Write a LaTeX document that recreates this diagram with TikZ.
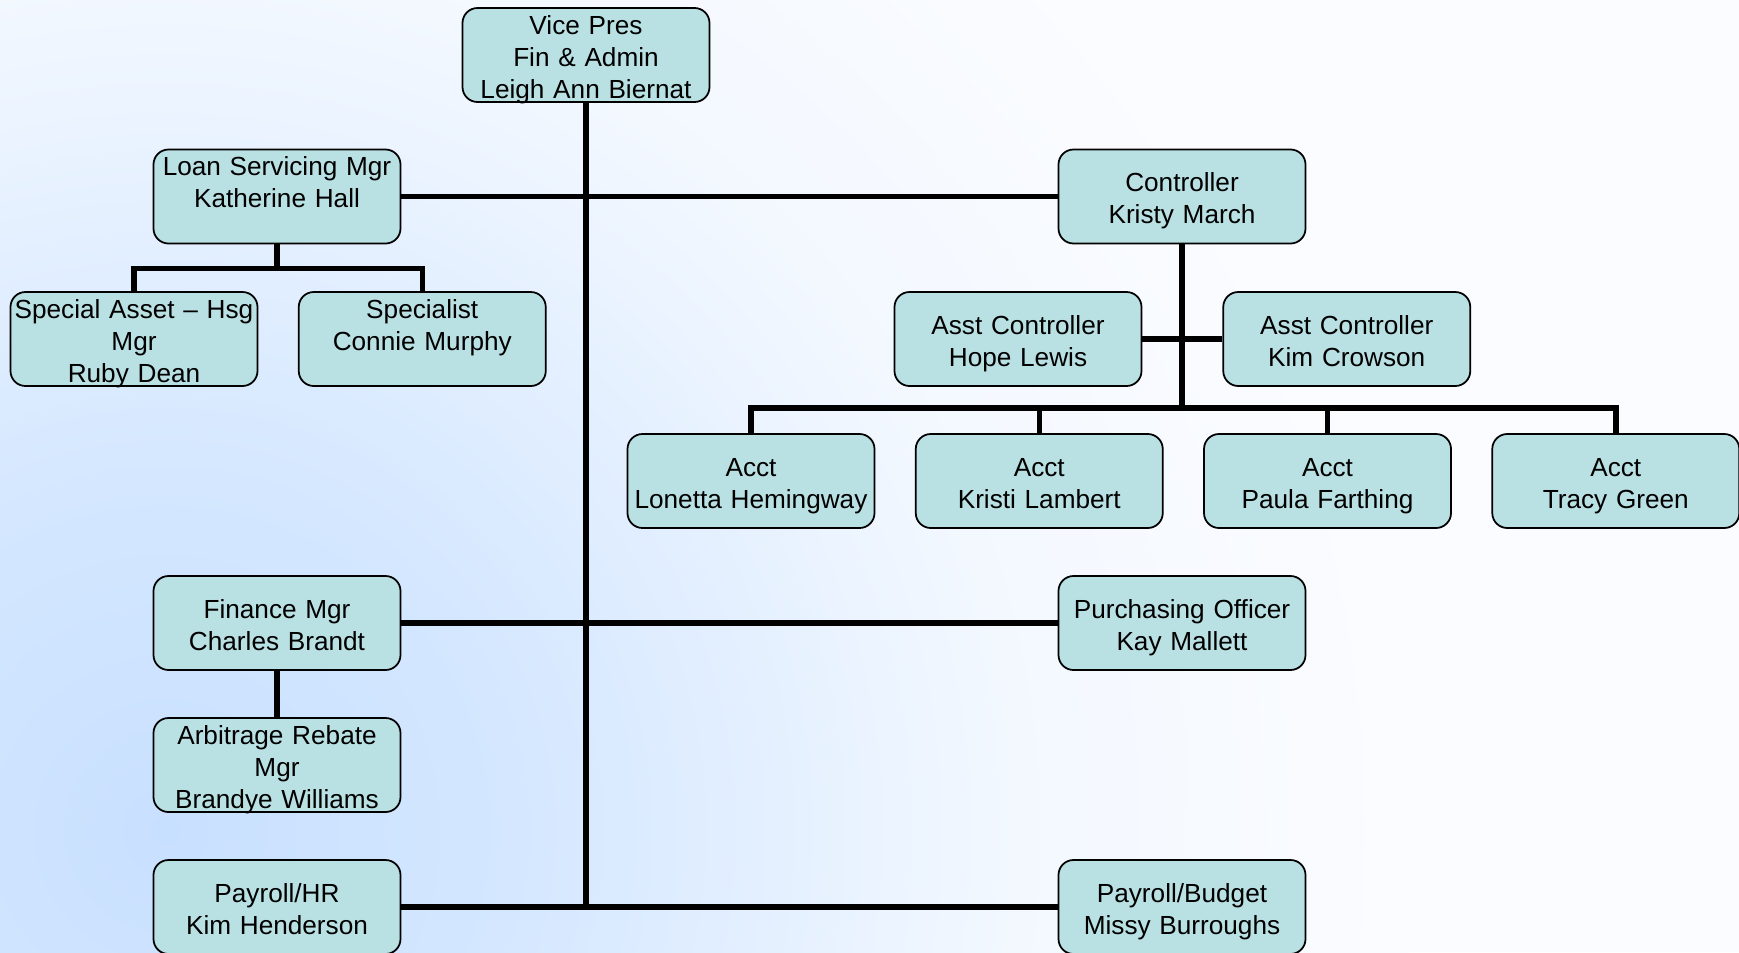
\documentclass[tikz,border=0pt]{standalone}
\usepackage{fontspec}
\setmainfont{Liberation Sans}
\usepackage{tikz}
\usetikzlibrary{calc, positioning}

\definecolor{boxfill}{HTML}{B9E0E3}
\definecolor{bgA}{HTML}{C8E0FF}
\definecolor{bgB}{HTML}{D4E7FF}
\definecolor{bgC}{HTML}{F3F8FF}
\definecolor{bgD}{HTML}{FBFCFF}
\pgfdeclareradialshading{bgglow}{\pgfpoint{0bp}{0bp}}{color(0bp)=(bgA); color(7bp)=(bgB); color(17bp)=(bgC); color(25bp)=(bgD); color(50bp)=(bgD)}

\begin{document}
\begin{tikzpicture}[
    node distance=0.925cm,
    person/.style={rectangle, rounded corners=0.3cm, minimum width=4.94cm, minimum height=1.88cm,
                   text width=4.94cm, inner xsep=0pt, inner ysep=-1.45pt, align=center,
                   draw=black, line width=1pt, fill=boxfill, font=\fontsize{14.9}{18.2}\selectfont,
                   execute at begin node={\rule{0pt}{16.3pt}},
                   execute at end node={\rule[-3.5pt]{0pt}{3.5pt}}},
    link/.style={line width=0.11cm}
]

% background
\useasboundingbox (0,0) rectangle (34.78,-19.04);
\begin{scope}
\clip (0,0) rectangle (34.78,-19.04);
\fill[bgD] (0,0) rectangle (34.78,-19.04);
\shade[shading=bgglow] (3.3,-16.6) circle (25cm);
\end{scope}

\node (vp) [person] at (11.72,-1.10) {Vice Pres\\Fin \& Admin\\Leigh Ann Biernat};

\node (loan) [person] at (5.54,-3.93) {Loan Servicing Mgr\\Katherine Hall\\\mbox{}};
\node (ctrl) [person] at (23.64,-3.93) {Controller\\Kristy March};

\node (special) [person] at (2.68,-6.78) {Special Asset -- Hsg\\Mgr\\Ruby Dean};
\node (specialist) [person, right=0.79cm of special] {Specialist\\Connie Murphy\\\mbox{}};

\node (hope) [person] at (20.36,-6.78) {Asst Controller\\Hope Lewis};
\node (kim) [person, right=1.60cm of hope] {Asst Controller\\Kim Crowson};

\node (acctA) [person] at (15.02,-9.62) {Acct\\Lonetta Hemingway};
\node (acctB) [person, right=0.79cm of acctA] {Acct\\Kristi Lambert};
\node (acctC) [person, right=0.79cm of acctB] {Acct\\Paula Farthing};
\node (acctD) [person, right=0.79cm of acctC] {Acct\\Tracy Green};

\node (finance) [person] at (5.54,-12.46) {Finance Mgr\\Charles Brandt};
\node (purch) [person] at (23.64,-12.46) {Purchasing Officer\\Kay Mallett};
\node (arbitrage) [person, below=of finance] {Arbitrage Rebate\\Mgr\\Brandye Williams};
\node (payhr) [person] at (5.54,-18.14) {Payroll/HR\\Kim Henderson};
\node (paybud) [person] at (23.64,-18.14) {Payroll/Budget\\Missy Burroughs};

% spine and branches
\draw [link] (vp.south) -- (vp.south |- payhr);
\draw [link] (loan) -- (ctrl);
\draw [link] (finance) -- (purch);
\draw [link] (payhr) -- (paybud);

\draw [link] (loan.south) -- ++(0,-0.48) coordinate (lbus);
\draw [link] (special.north) |- (lbus) -| (specialist.north);

\draw [link] (ctrl.south) -- ($(ctrl.south |- acctA.north)+(0,0.5)$) coordinate (abus);
\draw [link] (hope) -- (kim);
\draw [link] (acctA.north) |- (abus) -| (acctD.north);
\draw [link] (acctB.north) -- (acctB.north |- abus);
\draw [link] (acctC.north) -- (acctC.north |- abus);

\draw [link] (finance) -- (arbitrage);

\end{tikzpicture}
\end{document}
